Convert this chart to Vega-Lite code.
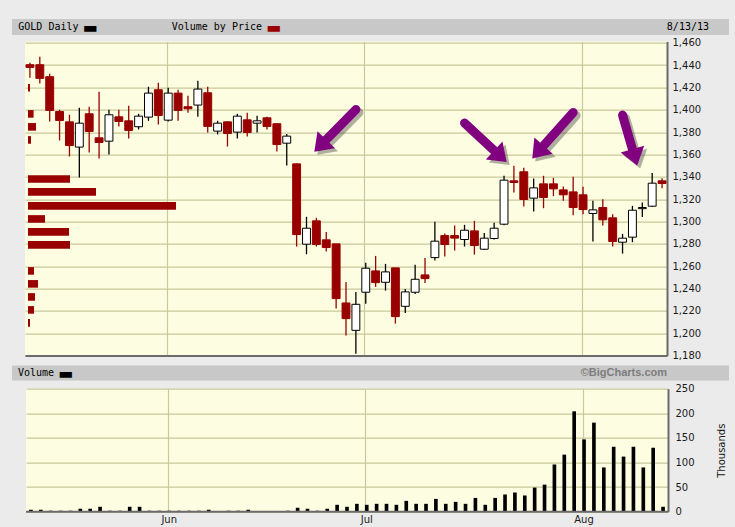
{
  "$schema": "https://vega.github.io/schema/vega-lite/v6.json",
  "background": "#ebebeb",
  "padding": {"left": 12, "top": 19, "right": 6, "bottom": 5.5},
  "datasets": {
    "daily": [
      {"date": "2013-05-13", "open": 1440.3, "high": 1442.1, "low": 1428.7, "close": 1437.9, "volume": 4},
      {"date": "2013-05-14", "open": 1440.3, "high": 1447.5, "low": 1423.6, "close": 1428.1, "volume": 4},
      {"date": "2013-05-15", "open": 1429.6, "high": 1432.2, "low": 1389.5, "close": 1399.4, "volume": 2},
      {"date": "2013-05-16", "open": 1398.5, "high": 1400.0, "low": 1372.5, "close": 1390.4, "volume": 2},
      {"date": "2013-05-17", "open": 1389.2, "high": 1395.5, "low": 1358.2, "close": 1368.0, "volume": 2},
      {"date": "2013-05-20", "open": 1366.6, "high": 1401.8, "low": 1339.4, "close": 1388.0, "volume": 6},
      {"date": "2013-05-21", "open": 1396.4, "high": 1402.7, "low": 1361.8, "close": 1380.6, "volume": 6},
      {"date": "2013-05-22", "open": 1374.9, "high": 1416.1, "low": 1356.4, "close": 1370.7, "volume": 10},
      {"date": "2013-05-23", "open": 1371.9, "high": 1400.0, "low": 1360.0, "close": 1395.5, "volume": 2},
      {"date": "2013-05-24", "open": 1393.7, "high": 1400.0, "low": 1385.1, "close": 1389.5, "volume": 2},
      {"date": "2013-05-28", "open": 1390.1, "high": 1403.6, "low": 1374.3, "close": 1381.5, "volume": 10},
      {"date": "2013-05-29", "open": 1384.8, "high": 1396.4, "low": 1382.4, "close": 1394.3, "volume": 10},
      {"date": "2013-05-30", "open": 1393.4, "high": 1420.6, "low": 1390.1, "close": 1414.9, "volume": 2},
      {"date": "2013-05-31", "open": 1417.9, "high": 1424.2, "low": 1386.9, "close": 1394.9, "volume": 2},
      {"date": "2013-06-03", "open": 1390.7, "high": 1419.7, "low": 1389.5, "close": 1414.9, "volume": 2},
      {"date": "2013-06-04", "open": 1414.9, "high": 1417.9, "low": 1390.1, "close": 1399.4, "volume": 2},
      {"date": "2013-06-05", "open": 1402.7, "high": 1412.5, "low": 1397.3, "close": 1400.9, "volume": 2},
      {"date": "2013-06-06", "open": 1404.2, "high": 1426.0, "low": 1393.7, "close": 1418.5, "volume": 2},
      {"date": "2013-06-07", "open": 1415.2, "high": 1420.6, "low": 1379.7, "close": 1385.1, "volume": 4},
      {"date": "2013-06-10", "open": 1380.9, "high": 1390.1, "low": 1377.9, "close": 1388.0, "volume": 0},
      {"date": "2013-06-11", "open": 1389.2, "high": 1389.5, "low": 1367.1, "close": 1378.8, "volume": 2},
      {"date": "2013-06-12", "open": 1380.0, "high": 1396.4, "low": 1374.3, "close": 1394.3, "volume": 2},
      {"date": "2013-06-13", "open": 1391.0, "high": 1397.3, "low": 1376.1, "close": 1379.7, "volume": 4},
      {"date": "2013-06-14", "open": 1388.0, "high": 1394.6, "low": 1379.7, "close": 1390.1, "volume": 0},
      {"date": "2013-06-17", "open": 1392.8, "high": 1393.7, "low": 1382.4, "close": 1385.1, "volume": 0},
      {"date": "2013-06-18", "open": 1387.5, "high": 1387.6, "low": 1362.7, "close": 1368.9, "volume": 0},
      {"date": "2013-06-19", "open": 1370.1, "high": 1378.2, "low": 1350.1, "close": 1376.4, "volume": 2},
      {"date": "2013-06-20", "open": 1351.6, "high": 1352.0, "low": 1277.6, "close": 1288.3, "volume": 8},
      {"date": "2013-06-21", "open": 1279.7, "high": 1304.2, "low": 1270.7, "close": 1294.0, "volume": 6},
      {"date": "2013-06-24", "open": 1300.6, "high": 1303.3, "low": 1277.6, "close": 1279.4, "volume": 2},
      {"date": "2013-06-25", "open": 1283.6, "high": 1290.7, "low": 1273.1, "close": 1276.7, "volume": 6},
      {"date": "2013-06-26", "open": 1280.0, "high": 1280.0, "low": 1222.1, "close": 1231.0, "volume": 14},
      {"date": "2013-06-27", "open": 1227.1, "high": 1245.9, "low": 1197.9, "close": 1213.1, "volume": 10},
      {"date": "2013-06-28", "open": 1202.6, "high": 1237.0, "low": 1181.7, "close": 1225.9, "volume": 16},
      {"date": "2013-07-01", "open": 1236.7, "high": 1263.0, "low": 1226.5, "close": 1258.2, "volume": 14},
      {"date": "2013-07-02", "open": 1255.8, "high": 1269.2, "low": 1241.5, "close": 1245.3, "volume": 16},
      {"date": "2013-07-03", "open": 1245.6, "high": 1262.1, "low": 1238.2, "close": 1254.9, "volume": 16},
      {"date": "2013-07-05", "open": 1258.5, "high": 1258.5, "low": 1208.6, "close": 1214.9, "volume": 14},
      {"date": "2013-07-08", "open": 1224.1, "high": 1239.7, "low": 1218.2, "close": 1237.0, "volume": 22},
      {"date": "2013-07-09", "open": 1236.7, "high": 1261.2, "low": 1235.2, "close": 1248.3, "volume": 16},
      {"date": "2013-07-10", "open": 1252.2, "high": 1267.4, "low": 1245.0, "close": 1248.9, "volume": 16},
      {"date": "2013-07-11", "open": 1267.7, "high": 1299.7, "low": 1265.0, "close": 1282.4, "volume": 26},
      {"date": "2013-07-12", "open": 1287.4, "high": 1289.2, "low": 1268.6, "close": 1279.4, "volume": 16},
      {"date": "2013-07-15", "open": 1287.4, "high": 1296.4, "low": 1274.0, "close": 1285.1, "volume": 20},
      {"date": "2013-07-16", "open": 1283.9, "high": 1297.0, "low": 1277.6, "close": 1292.2, "volume": 16},
      {"date": "2013-07-17", "open": 1291.6, "high": 1300.6, "low": 1270.4, "close": 1278.5, "volume": 28},
      {"date": "2013-07-18", "open": 1275.2, "high": 1289.8, "low": 1274.5, "close": 1285.1, "volume": 14},
      {"date": "2013-07-19", "open": 1284.8, "high": 1298.8, "low": 1283.9, "close": 1294.0, "volume": 28},
      {"date": "2013-07-22", "open": 1297.6, "high": 1340.9, "low": 1296.7, "close": 1337.0, "volume": 35},
      {"date": "2013-07-23", "open": 1336.4, "high": 1349.8, "low": 1325.9, "close": 1334.9, "volume": 39},
      {"date": "2013-07-24", "open": 1344.5, "high": 1348.0, "low": 1313.4, "close": 1319.7, "volume": 33},
      {"date": "2013-07-25", "open": 1320.9, "high": 1338.5, "low": 1308.9, "close": 1330.1, "volume": 49},
      {"date": "2013-07-26", "open": 1333.7, "high": 1340.9, "low": 1311.9, "close": 1321.5, "volume": 55},
      {"date": "2013-07-29", "open": 1333.7, "high": 1339.1, "low": 1322.7, "close": 1329.2, "volume": 96},
      {"date": "2013-07-30", "open": 1328.3, "high": 1331.3, "low": 1318.5, "close": 1323.9, "volume": 116},
      {"date": "2013-07-31", "open": 1326.5, "high": 1340.0, "low": 1305.6, "close": 1312.5, "volume": 204},
      {"date": "2013-08-01", "open": 1323.9, "high": 1331.0, "low": 1306.6, "close": 1310.7, "volume": 147},
      {"date": "2013-08-02", "open": 1307.2, "high": 1318.5, "low": 1282.1, "close": 1310.4, "volume": 181},
      {"date": "2013-08-05", "open": 1312.5, "high": 1320.0, "low": 1296.4, "close": 1301.5, "volume": 90},
      {"date": "2013-08-06", "open": 1303.3, "high": 1306.6, "low": 1277.6, "close": 1282.1, "volume": 132},
      {"date": "2013-08-07", "open": 1281.5, "high": 1288.9, "low": 1271.3, "close": 1285.1, "volume": 112},
      {"date": "2013-08-08", "open": 1286.0, "high": 1314.0, "low": 1281.5, "close": 1310.1, "volume": 132},
      {"date": "2013-08-09", "open": 1311.5, "high": 1317.0, "low": 1304.0, "close": 1312.5, "volume": 90},
      {"date": "2013-08-12", "open": 1313.7, "high": 1343.3, "low": 1313.0, "close": 1334.3, "volume": 130},
      {"date": "2013-08-13", "open": 1336.4, "high": 1338.8, "low": 1329.8, "close": 1334.0, "volume": 10}
    ],
    "volumeByPrice": [
      {"low": 1416.3, "high": 1423.1, "volume": 10},
      {"low": 1392.9, "high": 1399.7, "volume": 28},
      {"low": 1381.3, "high": 1388.1, "volume": 40},
      {"low": 1369.6, "high": 1376.4, "volume": 15},
      {"low": 1334.7, "high": 1341.5, "volume": 210},
      {"low": 1323.1, "high": 1329.9, "volume": 340},
      {"low": 1310.6, "high": 1317.4, "volume": 740},
      {"low": 1298.9, "high": 1305.7, "volume": 85},
      {"low": 1287.3, "high": 1294.1, "volume": 205},
      {"low": 1275.7, "high": 1282.5, "volume": 210},
      {"low": 1252.4, "high": 1259.2, "volume": 30},
      {"low": 1240.8, "high": 1247.6, "volume": 50},
      {"low": 1229.1, "high": 1235.9, "volume": 35},
      {"low": 1217.5, "high": 1224.3, "volume": 30},
      {"low": 1205.9, "high": 1212.7, "volume": 10}
    ],
    "arrows": [
      {"arrow": 1, "tailDate": "2013-06-28", "tailPrice": 1400.2, "headDate": "2013-06-25", "headPrice": 1373.2},
      {"arrow": 2, "tailDate": "2013-07-16", "tailPrice": 1388.2, "headDate": "2013-07-19", "headPrice": 1363.6},
      {"arrow": 3, "tailDate": "2013-07-31", "tailPrice": 1397.6, "headDate": "2013-07-26", "headPrice": 1367.8},
      {"arrow": 4, "tailDate": "2013-08-07", "tailPrice": 1395.2, "headDate": "2013-08-08", "headPrice": 1364.7}
    ]
  },
  "concat": [
    {
      "concat": [
        {
          "hconcat": [
            {
              "width": 13, "height": 16, "view": {"fill": "#c8c8c8", "stroke": null}, "data": {"values": [{}]},
              "mark": {"type": "text", "text": "", "opacity": 0}
            },
            {
              "width": 107, "height": 16, "view": {"fill": "#c8c8c8", "stroke": null}, "data": {"values": [{}]},
              "layer": [
                {"mark": {"type": "text", "text": "GOLD Daily", "font": "DejaVu Sans Mono", "fontSize": 10, "color": "#000000", "align": "right", "baseline": "middle"}},
                {"mark": {"type": "text", "text": "▬", "font": "DejaVu Sans", "fontSize": 16, "color": "#000000", "align": "left", "baseline": "middle", "dx": 4, "dy": 1}}
              ]
            },
            {
              "width": 260, "height": 16, "view": {"fill": "#c8c8c8", "stroke": null}, "data": {"values": [{}]},
              "layer": [
                {"mark": {"type": "text", "text": "Volume by Price", "font": "DejaVu Sans Mono", "fontSize": 10, "color": "#000000", "align": "right", "baseline": "middle"}},
                {"mark": {"type": "text", "text": "▬", "font": "DejaVu Sans", "fontSize": 16, "color": "#990000", "align": "left", "baseline": "middle", "dx": 4, "dy": 1}}
              ]
            },
            {
              "width": 297, "height": 16, "view": {"fill": "#c8c8c8", "stroke": null}, "data": {"values": [{}]},
              "mark": {"type": "text", "text": "", "opacity": 0}
            },
            {
              "width": 40, "height": 16, "view": {"fill": "#c8c8c8", "stroke": null}, "data": {"values": [{}]},
              "mark": {"type": "text", "text": "8/13/13", "font": "DejaVu Sans Mono", "fontSize": 10, "color": "#000000", "align": "right", "baseline": "middle"}
            }
          ],
          "spacing": 0,
          "bounds": "flush"
        },
        {
          "hconcat": [
            {
              "width": 13, "height": 314, "view": {"fill": null, "stroke": null}, "data": {"values": [{}]},
              "mark": {"type": "text", "text": "", "opacity": 0}
            },
            {
              "width": 642,
              "height": 314,
              "view": {"fill": "#fdfde2", "stroke": null},
              "layer": [
                {
                  "data": {"name": "volumeByPrice"},
                  "mark": {"type": "rect", "color": "#990000"},
                  "encoding": {
                    "x": {"field": "volume", "type": "quantitative", "scale": {"domain": [-15, 3195], "nice": false, "zero": false}, "axis": null},
                    "x2": {"datum": 0},
                    "y": {"field": "low", "type": "quantitative", "scale": {"domain": [1180, 1461], "nice": false, "zero": false}, "axis": null},
                    "y2": {"field": "high"}
                  }
                },
                {
                  "layer": [
                    {
                      "data": {"name": "daily"},
                      "mark": {"type": "rule", "strokeWidth": 1.3},
                      "encoding": {
                        "x": {
                          "field": "date", "type": "ordinal",
                          "scale": {"type": "band", "paddingInner": 0, "paddingOuter": 0},
                          "axis": {"values": ["2013-06-03", "2013-07-01", "2013-08-01"], "labels": false, "ticks": false, "grid": true, "domain": true, "bandPosition": 0.4, "title": null}
                        },
                        "y": {
                          "field": "low", "type": "quantitative",
                          "scale": {"domain": [1180, 1461], "nice": false, "zero": false},
                          "axis": {"orient": "right", "values": [1180, 1200, 1220, 1240, 1260, 1280, 1300, 1320, 1340, 1360, 1380, 1400, 1420, 1440, 1460], "tickCount": 40, "format": ",d", "grid": true, "domain": true, "labelPadding": 5, "labelOverlap": false, "title": null}
                        },
                        "y2": {"field": "high"},
                        "color": {"condition": {"test": "datum.close < datum.open", "value": "#990000"}, "value": "#000000"}
                      }
                    },
                    {
                      "data": {"name": "daily"},
                      "mark": {"type": "bar", "width": {"band": 0.8}, "strokeWidth": 1},
                      "encoding": {
                        "x": {"field": "date", "type": "ordinal", "title": null},
                        "y": {"field": "open", "type": "quantitative", "title": null},
                        "y2": {"field": "close"},
                        "fill": {"condition": {"test": "datum.close < datum.open", "value": "#990000"}, "value": "#ffffff"},
                        "stroke": {"condition": {"test": "datum.close < datum.open", "value": "#990000"}, "value": "#000000"}
                      }
                    },
                    {
                      "data": {"name": "arrows"},
                      "mark": {"type": "rule", "color": "#3a3a3a", "opacity": 0.4, "strokeWidth": 9, "strokeCap": "round", "xOffset": 3, "yOffset": 3, "x2Offset": 3, "y2Offset": 3},
                      "encoding": {
                        "x": {"field": "tailDate", "type": "ordinal", "title": null},
                        "x2": {"field": "headDate"},
                        "y": {"field": "tailPrice", "type": "quantitative", "title": null},
                        "y2": {"field": "headPrice"}
                      }
                    },
                    {
                      "data": {"name": "arrows"},
                      "mark": {"type": "rule", "color": "#800080", "strokeWidth": 9, "strokeCap": "round"},
                      "encoding": {
                        "x": {"field": "tailDate", "type": "ordinal", "title": null},
                        "x2": {"field": "headDate"},
                        "y": {"field": "tailPrice", "type": "quantitative", "title": null},
                        "y2": {"field": "headPrice"}
                      }
                    },
                    {
                      "data": {"name": "arrows"},
                      "transform": [{"filter": "datum.arrow == 1"}],
                      "layer": [
                        {"mark": {"type": "point", "shape": "M0,-1L0.72,0L-0.72,0Z", "angle": 224.4, "size": 1156, "filled": true, "color": "#3a3a3a", "opacity": 0.4, "xOffset": 3, "yOffset": 3}},
                        {"mark": {"type": "point", "shape": "M0,-1L0.72,0L-0.72,0Z", "angle": 224.4, "size": 1156, "filled": true, "color": "#800080", "opacity": 1}}
                      ],
                      "encoding": {
                        "x": {"field": "headDate", "type": "ordinal", "title": null},
                        "y": {"field": "headPrice", "type": "quantitative", "title": null}
                      }
                    },
                    {
                      "data": {"name": "arrows"},
                      "transform": [{"filter": "datum.arrow == 2"}],
                      "layer": [
                        {"mark": {"type": "point", "shape": "M0,-1L0.72,0L-0.72,0Z", "angle": 132.8, "size": 1156, "filled": true, "color": "#3a3a3a", "opacity": 0.4, "xOffset": 3, "yOffset": 3}},
                        {"mark": {"type": "point", "shape": "M0,-1L0.72,0L-0.72,0Z", "angle": 132.8, "size": 1156, "filled": true, "color": "#800080", "opacity": 1}}
                      ],
                      "encoding": {
                        "x": {"field": "headDate", "type": "ordinal", "title": null},
                        "y": {"field": "headPrice", "type": "quantitative", "title": null}
                      }
                    },
                    {
                      "data": {"name": "arrows"},
                      "transform": [{"filter": "datum.arrow == 3"}],
                      "layer": [
                        {"mark": {"type": "point", "shape": "M0,-1L0.72,0L-0.72,0Z", "angle": 221.6, "size": 1156, "filled": true, "color": "#3a3a3a", "opacity": 0.4, "xOffset": 3, "yOffset": 3}},
                        {"mark": {"type": "point", "shape": "M0,-1L0.72,0L-0.72,0Z", "angle": 221.6, "size": 1156, "filled": true, "color": "#800080", "opacity": 1}}
                      ],
                      "encoding": {
                        "x": {"field": "headDate", "type": "ordinal", "title": null},
                        "y": {"field": "headPrice", "type": "quantitative", "title": null}
                      }
                    },
                    {
                      "data": {"name": "arrows"},
                      "transform": [{"filter": "datum.arrow == 4"}],
                      "layer": [
                        {"mark": {"type": "point", "shape": "M0,-1L0.72,0L-0.72,0Z", "angle": 163.8, "size": 1156, "filled": true, "color": "#3a3a3a", "opacity": 0.4, "xOffset": 3, "yOffset": 3}},
                        {"mark": {"type": "point", "shape": "M0,-1L0.72,0L-0.72,0Z", "angle": 163.8, "size": 1156, "filled": true, "color": "#800080", "opacity": 1}}
                      ],
                      "encoding": {
                        "x": {"field": "headDate", "type": "ordinal", "title": null},
                        "y": {"field": "headPrice", "type": "quantitative", "title": null}
                      }
                    }
                  ]
                }
              ],
              "resolve": {"scale": {"x": "independent"}, "axis": {"x": "independent", "y": "independent"}}
            }
          ],
          "spacing": 0
        }
      ],
      "columns": 1,
      "spacing": 1.6
    },
    {
      "concat": [
        {
          "hconcat": [
            {
              "width": 13, "height": 15, "view": {"fill": "#c8c8c8", "stroke": null}, "data": {"values": [{}]},
              "mark": {"type": "text", "text": "", "opacity": 0}
            },
            {
              "width": 58, "height": 15, "view": {"fill": "#c8c8c8", "stroke": null}, "data": {"values": [{}]},
              "layer": [
                {"mark": {"type": "text", "text": "Volume", "font": "DejaVu Sans Mono", "fontSize": 10, "color": "#000000", "align": "right", "baseline": "middle"}},
                {"mark": {"type": "text", "text": "▬", "font": "DejaVu Sans", "fontSize": 16, "color": "#000000", "align": "left", "baseline": "middle", "dx": 4, "dy": 1}}
              ]
            },
            {
              "width": 522, "height": 15, "view": {"fill": "#c8c8c8", "stroke": null}, "data": {"values": [{}]},
              "mark": {"type": "text", "text": "", "opacity": 0}
            },
            {
              "width": 124, "height": 15, "view": {"fill": "#c8c8c8", "stroke": null}, "data": {"values": [{}]},
              "mark": {"type": "text", "text": "©BigCharts.com", "font": "Liberation Sans", "fontSize": 11, "fontWeight": "bold", "color": "#7d7d7d", "align": "right", "baseline": "middle"}
            }
          ],
          "spacing": 0,
          "bounds": "flush"
        },
        {
          "hconcat": [
            {
              "width": 13, "height": 123, "view": {"fill": null, "stroke": null}, "data": {"values": [{}]},
              "mark": {"type": "text", "text": "", "opacity": 0}
            },
            {
              "width": 642,
              "height": 123,
              "view": {"fill": "#fdfde2", "stroke": null},
              "layer": [
                {
                  "data": {"name": "daily"},
                  "mark": {"type": "bar", "width": {"band": 0.37}, "color": "#000000"},
                  "encoding": {
                    "x": {
                      "field": "date", "type": "ordinal",
                      "scale": {"type": "band", "paddingInner": 0, "paddingOuter": 0},
                      "axis": {
                        "values": ["2013-06-03", "2013-07-01", "2013-08-01"],
                        "labelExpr": "datum.value == '2013-06-03' ? 'Jun' : datum.value == '2013-07-01' ? 'Jul' : 'Aug'",
                        "labelAngle": 0, "labelPadding": 3, "ticks": false, "grid": true, "domain": false, "bandPosition": 0.4, "title": null
                      }
                    },
                    "y": {
                      "field": "volume", "type": "quantitative",
                      "scale": {"domain": [0, 250], "nice": false},
                      "axis": {"orient": "right", "values": [0, 50, 100, 150, 200, 250], "tickCount": 20, "grid": true, "domain": true, "labelPadding": 7, "labelOverlap": false, "title": "Thousands", "titleAngle": 270, "titlePadding": 32}
                    }
                  }
                },
                {
                  "data": {"values": [{}]},
                  "mark": {"type": "rule", "color": "#6b6b6b", "strokeWidth": 2},
                  "encoding": {"y": {"datum": 0}}
                }
              ]
            }
          ],
          "spacing": 0
        }
      ],
      "columns": 1,
      "spacing": 1.2
    }
  ],
  "columns": 1,
  "spacing": 4.5,
  "config": {
    "view": {"stroke": null},
    "axis": {
      "labelFont": "DejaVu Sans", "labelFontSize": 10, "labelColor": "#1a1a1a",
      "titleFont": "DejaVu Sans", "titleFontSize": 10, "titleFontWeight": "normal", "titleColor": "#1a1a1a",
      "gridColor": "#c9c99b", "gridWidth": 1.2, "gridOpacity": 1,
      "domainColor": "#6b6b6b", "domainWidth": 2,
      "ticks": false, "labelOverlap": false
    }
  }
}
